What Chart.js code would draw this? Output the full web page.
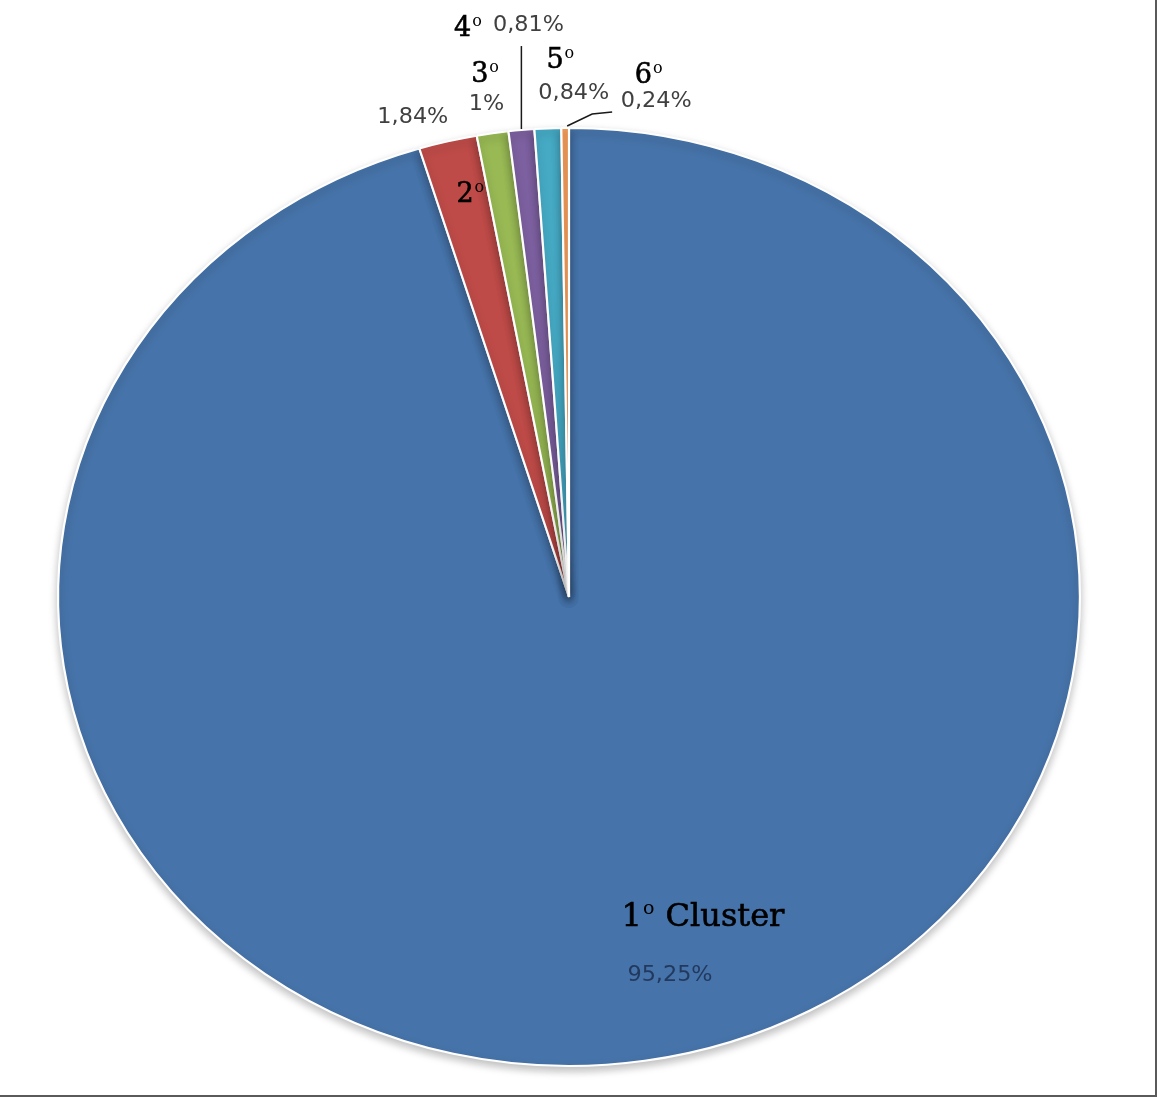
<!DOCTYPE html>
<html>
<head>
<meta charset="utf-8">
<script src="https://cdn.jsdelivr.net/npm/chart.js@4/dist/chart.umd.min.js"></script>
<style>
  html, body { margin: 0; padding: 0; background: #ffffff; }
  #wrap { position: relative; width: 1157px; height: 1097px; overflow: hidden; background: #fff; }
  #frameR { position: absolute; right: 0; top: 0; width: 2px; height: 1097px; background: #5a5a5a; }
  #frameB { position: absolute; left: 0; bottom: 0; width: 1157px; height: 2px; background: #5a5a5a; }
</style>
</head>
<body>
<div id="wrap">
  <canvas id="c" width="1157" height="1097"></canvas>
  <div id="frameR"></div>
  <div id="frameB"></div>
</div>
<script>
// ---- data ----
const categories = ["1", "2", "3", "4", "5", "6"];
const values = [95.25, 1.84, 1, 0.81, 0.84, 0.24];
const valueLabels = ["95,25%", "1,84%", "1%", "0,81%", "0,84%", "0,24%"];
const colors = ["#4673A9", "#BE4B48", "#98B954", "#7D60A0", "#46AAC5", "#F59D5A"];

// ---- layout / style (not data) ----
const CX = 569, CY = 597, RY = 470, RX = 512;
const SX = RX / RY;
// offsets of labels relative to each slice's outer mid point (slice 0: relative to centre)
const nameOffsets = [[134, 321], [23, 54], [-7, -58], [-53, -101], [13, -67], [84, -52]];
const valOffsets  = [[101, 379], [-35, -24], [-6, -29], [7, -104], [26, -35], [91, -26]];
const leaders = { 3: [[0, -1], [0, -84]], 5: [[2, -2], [27, -14], [47, -16]] };

const stretchPlugin = {
  id: 'stretch',
  beforeDatasetsDraw(chart) {
    const ctx = chart.ctx;
    ctx.save();
    ctx.translate(CX, CY);
    ctx.scale(SX, 1);
    ctx.translate(-CX, -CY);
    ctx.shadowColor = 'rgba(0,0,0,0.25)';
    ctx.shadowBlur = 8;
    ctx.shadowOffsetY = 4;
  },
  afterDatasetsDraw(chart) {
    chart.ctx.restore();
  }
};

function anchorOf(arc) {
  const mid = (arc.startAngle + arc.endAngle) / 2;
  return [arc.x + SX * arc.outerRadius * Math.cos(mid), arc.y + arc.outerRadius * Math.sin(mid)];
}

function drawOrdinal(ctx, num, rest, x, y, size) {
  const f = (s) => s + 'px "DejaVu Serif"';
  ctx.font = f(size);
  const wNum = ctx.measureText(num).width;
  const supSize = Math.round(size * 0.6);
  ctx.font = f(supSize);
  const wSup = ctx.measureText('o').width;
  ctx.font = f(size);
  const wRest = rest ? ctx.measureText(rest).width : 0;
  const total = wNum + wSup + 2 + wRest;
  let sx = x - total / 2;
  ctx.textAlign = 'left';
  ctx.textBaseline = 'middle';
  ctx.fillStyle = '#000';
  ctx.strokeStyle = '#000';
  ctx.lineWidth = 0.6;
  ctx.fillText(num, sx, y);
  ctx.strokeText(num, sx, y);
  sx += wNum + 1;
  ctx.font = f(supSize);
  ctx.fillText('o', sx, y - size * 0.28);
  sx += wSup + 1;
  if (rest) {
    ctx.font = f(size);
    ctx.fillText(rest, sx, y);
    ctx.strokeText(rest, sx, y);
  }
}

function drawValue(ctx, text, x, y, color) {
  ctx.save();
  ctx.translate(x, y);
  ctx.scale(SX, 1);
  ctx.font = '20.5px "DejaVu Sans"';
  ctx.textAlign = 'center';
  ctx.textBaseline = 'middle';
  ctx.fillStyle = color;
  ctx.fillText(text, 0, 0);
  ctx.restore();
}

const labelPlugin = {
  id: 'labels',
  afterDraw(chart) {
    const ctx = chart.ctx;
    const arcs = chart.getDatasetMeta(0).data;
    ctx.save();
    arcs.forEach((arc, i) => {
      const base = i === 0 ? [arc.x, arc.y] : anchorOf(arc);
      if (leaders[i]) {
        ctx.strokeStyle = '#1a1a1a';
        ctx.lineWidth = 1.5;
        ctx.beginPath();
        leaders[i].forEach((p, k) => {
          const px = base[0] + p[0], py = base[1] + p[1];
          if (k === 0) ctx.moveTo(px, py); else ctx.lineTo(px, py);
        });
        ctx.stroke();
      }
      drawValue(ctx, valueLabels[i], base[0] + valOffsets[i][0], base[1] + valOffsets[i][1],
                i === 0 ? '#22395F' : '#404040');
      const nx = base[0] + nameOffsets[i][0], ny = base[1] + nameOffsets[i][1];
      if (i === 0) drawOrdinal(ctx, categories[i], ' Cluster', nx, ny, 32);
      else drawOrdinal(ctx, categories[i], '', nx, ny, 27);
    });
    ctx.restore();
  }
};

new Chart(document.getElementById('c'), {
  type: 'pie',
  data: {
    labels: categories,
    datasets: [{
      data: values,
      backgroundColor: colors,
      borderColor: '#ffffff',
      borderWidth: 2
    }]
  },
  options: {
    responsive: false,
    animation: false,
    events: [],
    layout: { padding: { top: CY - RY, bottom: 1097 - (CY + RY), left: CX - RY, right: 1157 - (CX + RY) } },
    plugins: { legend: { display: false }, tooltip: { enabled: false } }
  },
  plugins: [stretchPlugin, labelPlugin]
});
</script>
</body>
</html>
